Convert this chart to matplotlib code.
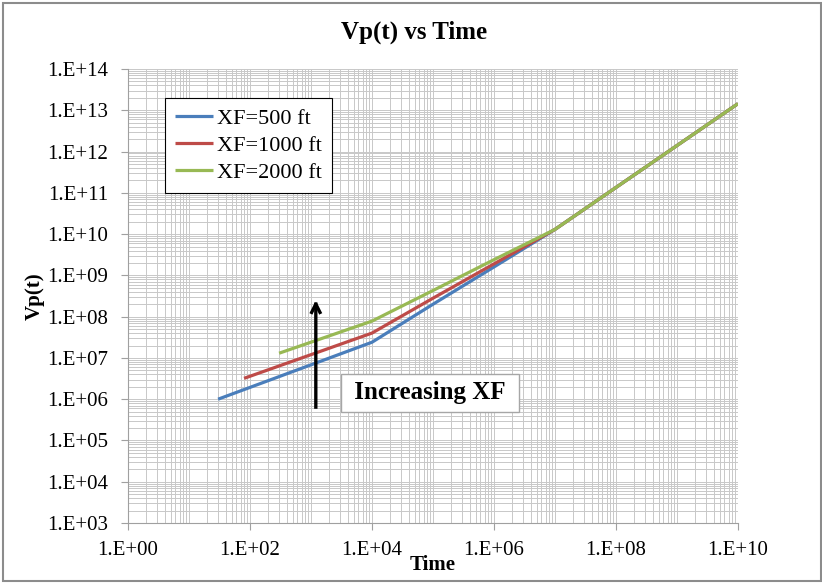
"""
vp_time_plot.py:

Plots Vp(t) against time on log-log axes for three fracture half-lengths.
"""

import numpy as np
import matplotlib
matplotlib.use('Agg')
import matplotlib.pyplot as plt
from matplotlib import ticker
from matplotlib.patches import Rectangle

# Time / Vp(t) values for each half-length
TIME_500 = [30, 1e4, 1e5, 1e6, 1e7, 1e8, 1e9, 1e10]
VP_500 = [1.0e6, 2.4e7, 2.0e8, 1.6e9, 1.3e10, 1.35e11, 1.4e12, 1.45e13]

TIME_1000 = [80, 1e4, 1e5, 1e6, 1e7, 1e8, 1e9, 1e10]
VP_1000 = [3.2e6, 4.0e7, 2.8e8, 1.9e9, 1.3e10, 1.35e11, 1.4e12, 1.45e13]

TIME_2000 = [300, 1e4, 1e5, 1e6, 1e7, 1e8, 1e9, 1e10]
VP_2000 = [1.3e7, 7.8e7, 4.3e8, 2.4e9, 1.3e10, 1.35e11, 1.4e12, 1.45e13]

LABELS = ['XF=500 ft', 'XF=1000 ft', 'XF=2000 ft']
COLORS = ['#4a7ebb', '#be4b48', '#98b954']

if __name__ == "__main__":
    plt.rcParams['font.family'] = ['Liberation Serif', 'DejaVu Serif']

    fig = plt.figure(figsize=(8.22, 5.83), dpi=100)
    ax = fig.add_axes([0.1557, 0.1029, 0.7421, 0.7787])

    series = [(TIME_500, VP_500), (TIME_1000, VP_1000), (TIME_2000, VP_2000)]
    for (t, v), lab, col in zip(series, LABELS, COLORS):
        ax.plot(t, v, color=col, lw=2.3, label=lab, solid_capstyle='butt')

    ax.set_xscale('log')
    ax.set_yscale('log')
    ax.set_xlim(1, 1e10)
    ax.set_ylim(1e3, 1e14)

    ax.xaxis.set_major_locator(ticker.LogLocator(base=100, numticks=20))
    ax.xaxis.set_minor_locator(ticker.LogLocator(base=10, subs=np.arange(1, 10), numticks=30))
    ax.yaxis.set_major_locator(ticker.LogLocator(base=10, numticks=20))
    ax.yaxis.set_minor_locator(ticker.LogLocator(base=10, subs=np.arange(2, 10), numticks=30))

    fmt = ticker.FuncFormatter(lambda v, p: '1.E+%02d' % int(round(np.log10(v))))
    ax.xaxis.set_major_formatter(fmt)
    ax.yaxis.set_major_formatter(fmt)
    ax.xaxis.set_minor_formatter(ticker.NullFormatter())
    ax.yaxis.set_minor_formatter(ticker.NullFormatter())

    ax.grid(True, which='both', color='#c8c8c8', lw=0.7)
    ax.set_axisbelow(True)
    for side in ['top', 'right']:
        ax.spines[side].set_visible(False)
    for side in ['left', 'bottom']:
        ax.spines[side].set_color('#a0a0a0')
    ax.tick_params(which='major', direction='out', length=5, color='#a0a0a0',
                   labelsize=15)
    ax.tick_params(axis='x', which='major', pad=8)
    ax.tick_params(axis='y', which='major', pad=9)
    ax.tick_params(which='minor', length=0)

    ax.set_title('Vp(t) vs Time', fontsize=18, fontweight='bold', pad=22, x=0.469)
    ax.set_xlabel('Time', fontsize=15, fontweight='bold', labelpad=-4)
    ax.set_ylabel('Vp(t)', fontsize=15, fontweight='bold', labelpad=2)

    leg = ax.legend(loc='upper left', bbox_to_anchor=(0.061, 0.936), borderaxespad=0,
                    fancybox=False, edgecolor='black', fontsize=16, handlelength=1.7,
                    labelspacing=0.3, borderpad=0.45, handletextpad=0.2, framealpha=1)
    leg.get_frame().set_linewidth(0.8)

    # arrow showing direction of increasing half-length (open head)
    ax.annotate('', xy=(1.2e3, 2.9e8), xytext=(1.2e3, 5.5e5),
                arrowprops=dict(arrowstyle='->,head_length=0.6,head_width=0.3',
                                color='black', lw=2.4, capstyle='projecting'))
    ax.text(8.9e4, 1.45e6, ' Increasing XF ', fontsize=18, fontweight='bold',
            ha='center', va='center',
            bbox=dict(boxstyle='square,pad=0.3', fc='white', ec='#a6a6a6', lw=1.0))

    # chart frame
    fig.patches.append(Rectangle((3 / 822, 2 / 583), 818 / 822, 578 / 583,
                                 transform=fig.transFigure, fill=False,
                                 edgecolor='#8c8c8c', lw=1.5))

    fig.savefig('out.png', dpi=100)
